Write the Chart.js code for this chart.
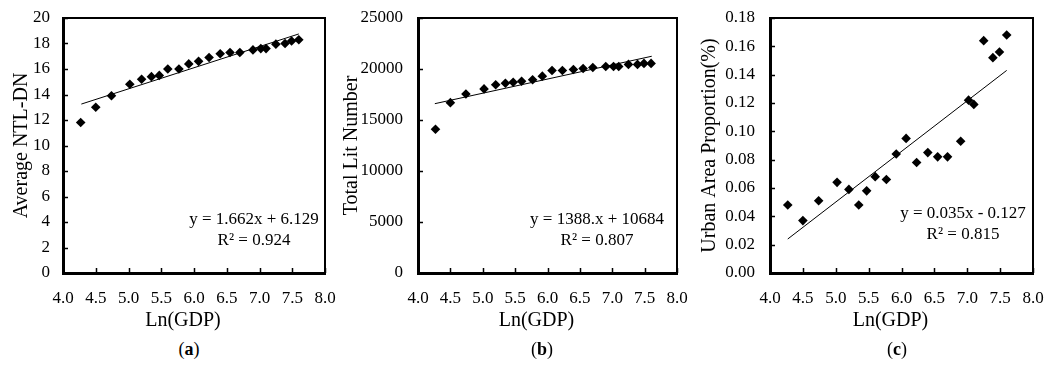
<!DOCTYPE html>
<html>
<head>
<meta charset="utf-8">
<script src="https://cdn.jsdelivr.net/npm/chart.js@4.4.1/dist/chart.umd.min.js"></script>
<style>
  html, body { margin: 0; padding: 0; background: #fff; }
  #wrap { position: relative; width: 1046px; height: 365px; background: #fff; }
  .panel { position: absolute; top: 0; height: 335px; }
  .cap { position: absolute; top: 339px; width: 60px; margin-left: -30px; text-align: center;
         font-family: 'Liberation Serif', 'Times New Roman', serif; font-size: 18px; color: #000; }
</style>
</head>
<body>
<div id="wrap">
  <div class="panel" style="left:0;width:340px"><canvas id="chart-a"></canvas></div>
  <div class="panel" style="left:335px;width:355px"><canvas id="chart-b"></canvas></div>
  <div class="panel" style="left:690px;width:356px"><canvas id="chart-c"></canvas></div>
  <div class="cap" style="left:189px">(<b>a</b>)</div>
  <div class="cap" style="left:542px">(<b>b</b>)</div>
  <div class="cap" style="left:897px">(<b>c</b>)</div>
</div>
<script>
/* 데이터 */
const lnGdp     = [4.27, 4.50, 4.74, 5.02, 5.20, 5.35, 5.47, 5.60, 5.77, 5.92, 6.07,
                   6.23, 6.40, 6.55, 6.70, 6.90, 7.02, 7.10, 7.25, 7.39, 7.49, 7.60];
const avgNtlDn  = [11.8, 13.0, 13.9, 14.8, 15.2, 15.4, 15.5, 16.0, 16.0, 16.4, 16.6,
                   16.9, 17.2, 17.3, 17.3, 17.5, 17.6, 17.6, 17.95, 18.0, 18.2, 18.3];
const litNumber = [14100, 16700, 17550, 18050, 18450, 18600, 18700, 18800, 18950, 19300, 19850,
                   19850, 19950, 20050, 20150, 20250, 20250, 20250, 20450, 20450, 20550, 20550];
const urbanProp = [0.048, 0.037, 0.051, 0.064, 0.059, 0.048, 0.058, 0.068, 0.066, 0.084, 0.095,
                   0.078, 0.085, 0.082, 0.082, 0.093, 0.122, 0.119, 0.164, 0.152, 0.156, 0.168];

/* 추세선 양 끝점 */
const trendA = [[4.28, 13.25], [7.60, 18.75]];
const trendB = [[4.26, 16600], [7.61, 21250]];
const trendC = [[4.27, 0.024], [7.60, 0.143]];

const eqA = ['y = 1.662x + 6.129', 'R² = 0.924'];
const eqB = ['y = 1388.x + 10684', 'R² = 0.807'];
const eqC = ['y = 0.035x - 0.127', 'R² = 0.815'];

const xTitle = 'Ln(GDP)';
const xTicks = { min: 4, max: 8, step: 0.5 };
const FONT = "'Liberation Serif', 'Times New Roman', serif";

/* 테두리 + 안쪽 눈금 + x축 제목 + 회귀식 텍스트 */
const framePlugin = {
  id: 'frame',
  afterDraw(chart, args, opts) {
    const { ctx, chartArea: a, scales } = chart;
    ctx.save();
    ctx.strokeStyle = '#000';
    // 위/오른쪽 테두리
    ctx.lineWidth = 2;
    ctx.beginPath();
    ctx.moveTo(a.left, a.top); ctx.lineTo(a.right, a.top); ctx.lineTo(a.right, a.bottom);
    ctx.stroke();
    // 안쪽 눈금
    ctx.lineWidth = 1.5;
    ctx.beginPath();
    scales.x.ticks.forEach(t => {
      const px = Math.round(scales.x.getPixelForValue(t.value)) + 0.5;
      ctx.moveTo(px, a.bottom); ctx.lineTo(px, a.bottom - 5);
    });
    scales.y.ticks.forEach(t => {
      const py = Math.round(scales.y.getPixelForValue(t.value)) + 0.5;
      ctx.moveTo(a.left, py); ctx.lineTo(a.left + 5, py);
    });
    ctx.stroke();
    ctx.fillStyle = '#000';
    ctx.textAlign = 'center';
    ctx.textBaseline = 'middle';
    // x축 제목 (엑셀처럼 약간 왼쪽)
    ctx.font = '20px ' + FONT;
    ctx.fillText(xTitle, (a.left + a.right) / 2 - 11, 321);
    // 회귀식
    ctx.font = '17px ' + FONT;
    opts.lines.forEach((s, i) => ctx.fillText(s, a.right - opts.dx, opts.y + i * 21));
    ctx.restore();
  }
};

function makeChart(id, cfg) {
  const pts = lnGdp.map((x, i) => ({ x: x, y: cfg.values[i] }));
  const line = cfg.trend.map(p => ({ x: p[0], y: p[1] }));
  return new Chart(document.getElementById(id), {
    type: 'scatter',
    data: {
      datasets: [
        { data: pts, pointStyle: 'rectRot', pointRadius: 4.8, backgroundColor: '#000',
          borderColor: '#000', borderWidth: 0 },
        { type: 'line', data: line, borderColor: '#000', borderWidth: 1, pointRadius: 0,
          fill: false }
      ]
    },
    options: {
      responsive: true,
      maintainAspectRatio: false,
      animation: false,
      layout: { padding: { top: 18, right: cfg.padRight, left: 0, bottom: 0 } },
      plugins: {
        legend: { display: false },
        tooltip: { enabled: false },
        frame: { lines: cfg.eq, dx: cfg.eqDx, y: cfg.eqY }
      },
      scales: {
        x: {
          type: 'linear', min: xTicks.min, max: xTicks.max,
          ticks: { stepSize: xTicks.step, color: '#000', padding: 15,
                   font: { family: FONT, size: 17 }, callback: v => v.toFixed(1) },
          grid: { drawOnChartArea: false, drawTicks: false },
          border: { display: true, color: '#000', width: 3 },
          afterFit: s => { s.height = 62; s.paddingLeft = 0; s.paddingRight = 0; }
        },
        y: {
          min: cfg.yMin, max: cfg.yMax,
          ticks: { stepSize: cfg.yStep, color: '#000', padding: cfg.tickPad,
                   font: { family: FONT, size: 17 }, callback: cfg.fmt },
          grid: { drawOnChartArea: false, drawTicks: false },
          border: { display: true, color: '#000', width: 3 },
          title: { display: true, text: cfg.yTitle, color: '#000',
                   font: { family: FONT, size: 20 }, padding: { top: cfg.titlePad, bottom: 0 } },
          afterFit: s => { s.width = cfg.axisW; s.paddingTop = 0; s.paddingBottom = 0; }
        }
      }
    },
    plugins: [framePlugin]
  });
}

makeChart('chart-a', {
  values: avgNtlDn, trend: trendA, eq: eqA, eqDx: 71, eqY: 220,
  yMin: 0, yMax: 20, yStep: 2, fmt: v => v, yTitle: 'Average NTL-DN',
  axisW: 63, padRight: 15, tickPad: 13, titlePad: 10
});
makeChart('chart-b', {
  values: litNumber, trend: trendB, eq: eqB, eqDx: 80, eqY: 220,
  yMin: 0, yMax: 25000, yStep: 5000, fmt: v => v, yTitle: 'Total Lit Number',
  axisW: 83, padRight: 13, tickPad: 15, titlePad: 5
});
makeChart('chart-c', {
  values: urbanProp, trend: trendC, eq: eqC, eqDx: 70, eqY: 214,
  yMin: 0, yMax: 0.18, yStep: 0.02, fmt: v => v.toFixed(2), yTitle: 'Urban Area Proportion(%)',
  axisW: 80, padRight: 13, tickPad: 15, titlePad: 8
});
</script>
</body>
</html>
